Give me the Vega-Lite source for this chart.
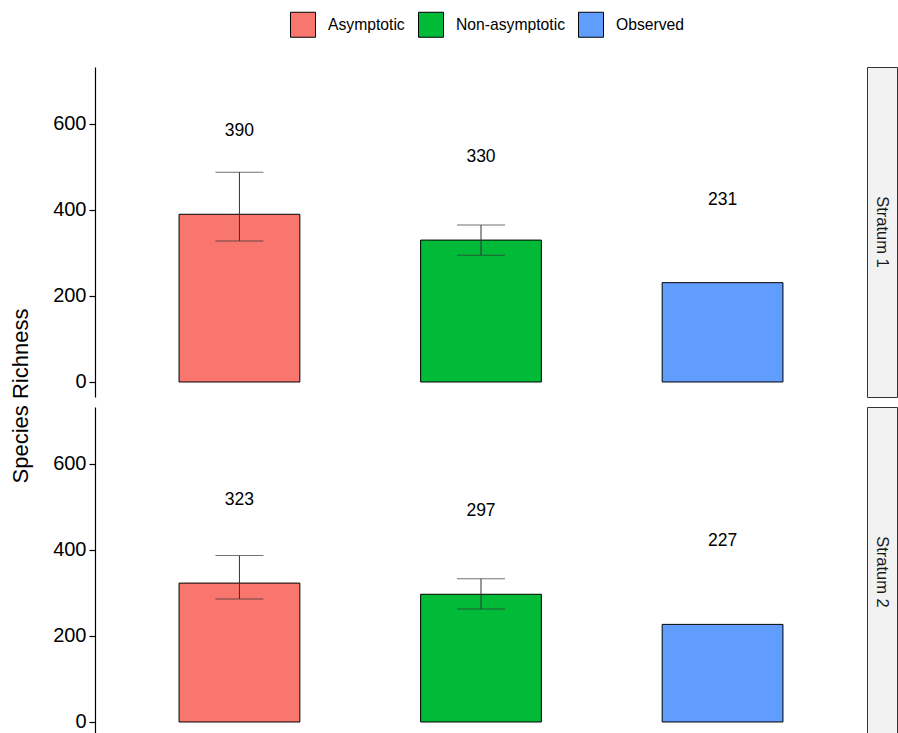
{
  "$schema": "https://vega.github.io/schema/vega-lite/v6.json",
  "padding": {"left": 9, "top": 11, "right": 0, "bottom": 0},
  "background": "white",
  "config": {
    "font": "Liberation Sans",
    "view": {"stroke": null},
    "axis": {"grid": false}
  },
  "datasets": {
    "richness": [
      {"stratum": "Stratum 1", "method": "Asymptotic", "richness": 390, "lower": 328, "upper": 488},
      {"stratum": "Stratum 1", "method": "Non-asymptotic", "richness": 330, "lower": 295, "upper": 365},
      {"stratum": "Stratum 1", "method": "Observed", "richness": 231, "lower": null, "upper": null},
      {"stratum": "Stratum 2", "method": "Asymptotic", "richness": 323, "lower": 286, "upper": 387},
      {"stratum": "Stratum 2", "method": "Non-asymptotic", "richness": 297, "lower": 263, "upper": 333},
      {"stratum": "Stratum 2", "method": "Observed", "richness": 227, "lower": null, "upper": null}
    ],
    "strata": [
      {"stratum": "Stratum 1"},
      {"stratum": "Stratum 2"}
    ]
  },
  "bounds": "flush",
  "columns": 2,
  "spacing": {"row": 10, "column": 0},
  "resolve": {"scale": {"color": "shared"}, "legend": {"color": "shared"}},
  "concat": [
    {
      "width": 772,
      "height": 330,
      "data": {"name": "richness"},
      "transform": [{"filter": "datum.stratum === 'Stratum 1'"}],
      "encoding": {
        "x": {
          "field": "method", "type": "nominal",
          "scale": {"domain": ["Asymptotic", "Non-asymptotic", "Observed"], "paddingInner": 0.5, "paddingOuter": 0.348},
          "axis": null
        }
      },
      "layer": [
        {
          "mark": {"type": "bar", "stroke": "black", "strokeWidth": 1},
          "encoding": {
            "y": {
              "field": "richness", "type": "quantitative", "title": "Species Richness",
              "scale": {"domain": [-34.9, 732.5], "nice": false, "zero": false},
              "axis": {
                "values": [0, 200, 400, 600],
                "domainColor": "black", "domainWidth": 1.2,
                "tickColor": "black", "tickSize": 6, "tickWidth": 1.2,
                "labelColor": "black", "labelFontSize": 20, "labelPadding": 3,
                "titleColor": "black", "titleFontSize": 22, "titleFontWeight": "normal",
                "titlePadding": 20, "titleY": 328.5
              }
            },
            "color": {
              "field": "method", "type": "nominal",
              "scale": {"domain": ["Asymptotic", "Non-asymptotic", "Observed"], "range": ["#F8766D", "#00BA38", "#619CFF"]},
              "legend": {
                "orient": "none", "legendX": 195, "legendY": -55.5, "direction": "horizontal",
                "title": null, "symbolType": "square", "symbolSize": 625,
                "symbolStrokeColor": "black", "symbolStrokeWidth": 1, "symbolOpacity": 1,
                "labelFontSize": 15.7, "labelColor": "black", "labelOffset": 12, "columnPadding": 11
              }
            }
          }
        },
        {
          "mark": {"type": "rule", "color": "#333333", "strokeWidth": 1},
          "encoding": {
            "y": {"field": "lower", "type": "quantitative", "title": "Species Richness"},
            "y2": {"field": "upper"}
          }
        },
        {
          "mark": {"type": "tick", "color": "#333333", "thickness": 1, "size": 48},
          "encoding": {"y": {"field": "upper", "type": "quantitative", "title": "Species Richness"}}
        },
        {
          "mark": {"type": "tick", "color": "#333333", "thickness": 1, "size": 48},
          "encoding": {"y": {"field": "lower", "type": "quantitative", "title": "Species Richness"}}
        },
        {
          "mark": {"type": "text", "fontSize": 17.5, "color": "black", "baseline": "alphabetic", "dy": -78},
          "encoding": {
            "y": {"field": "richness", "type": "quantitative", "title": "Species Richness"},
            "text": {"field": "richness", "type": "quantitative"}
          }
        }
      ]
    },
    {
      "width": 30,
      "height": 330,
      "view": {"fill": "#F2F2F2", "stroke": "#333333", "strokeWidth": 1},
      "data": {"name": "strata"},
      "transform": [{"filter": "datum.stratum === 'Stratum 1'"}],
      "mark": {"type": "text", "angle": 90, "fontSize": 16.5, "color": "#1A1A1A", "align": "center", "baseline": "middle"},
      "encoding": {"text": {"field": "stratum", "type": "nominal"}}
    },
    {
      "width": 772,
      "height": 330,
      "data": {"name": "richness"},
      "transform": [{"filter": "datum.stratum === 'Stratum 2'"}],
      "encoding": {
        "x": {
          "field": "method", "type": "nominal",
          "scale": {"domain": ["Asymptotic", "Non-asymptotic", "Observed"], "paddingInner": 0.5, "paddingOuter": 0.348},
          "axis": null
        }
      },
      "layer": [
        {
          "mark": {"type": "bar", "stroke": "black", "strokeWidth": 1},
          "encoding": {
            "y": {
              "field": "richness", "type": "quantitative", "title": null,
              "scale": {"domain": [-34.9, 732.5], "nice": false, "zero": false},
              "axis": {
                "values": [0, 200, 400, 600],
                "domainColor": "black", "domainWidth": 1.2,
                "tickColor": "black", "tickSize": 6, "tickWidth": 1.2,
                "labelColor": "black", "labelFontSize": 20, "labelPadding": 3
              }
            },
            "color": {
              "field": "method", "type": "nominal",
              "scale": {"domain": ["Asymptotic", "Non-asymptotic", "Observed"], "range": ["#F8766D", "#00BA38", "#619CFF"]},
              "legend": {
                "orient": "none", "legendX": 195, "legendY": -55.5, "direction": "horizontal",
                "title": null, "symbolType": "square", "symbolSize": 625,
                "symbolStrokeColor": "black", "symbolStrokeWidth": 1, "symbolOpacity": 1,
                "labelFontSize": 15.7, "labelColor": "black", "labelOffset": 12, "columnPadding": 11
              }
            }
          }
        },
        {
          "mark": {"type": "rule", "color": "#333333", "strokeWidth": 1},
          "encoding": {
            "y": {"field": "lower", "type": "quantitative", "title": null},
            "y2": {"field": "upper"}
          }
        },
        {
          "mark": {"type": "tick", "color": "#333333", "thickness": 1, "size": 48},
          "encoding": {"y": {"field": "upper", "type": "quantitative", "title": null}}
        },
        {
          "mark": {"type": "tick", "color": "#333333", "thickness": 1, "size": 48},
          "encoding": {"y": {"field": "lower", "type": "quantitative", "title": null}}
        },
        {
          "mark": {"type": "text", "fontSize": 17.5, "color": "black", "baseline": "alphabetic", "dy": -78},
          "encoding": {
            "y": {"field": "richness", "type": "quantitative", "title": null},
            "text": {"field": "richness", "type": "quantitative"}
          }
        }
      ]
    },
    {
      "width": 30,
      "height": 330,
      "view": {"fill": "#F2F2F2", "stroke": "#333333", "strokeWidth": 1},
      "data": {"name": "strata"},
      "transform": [{"filter": "datum.stratum === 'Stratum 2'"}],
      "mark": {"type": "text", "angle": 90, "fontSize": 16.5, "color": "#1A1A1A", "align": "center", "baseline": "middle"},
      "encoding": {"text": {"field": "stratum", "type": "nominal"}}
    }
  ]
}
